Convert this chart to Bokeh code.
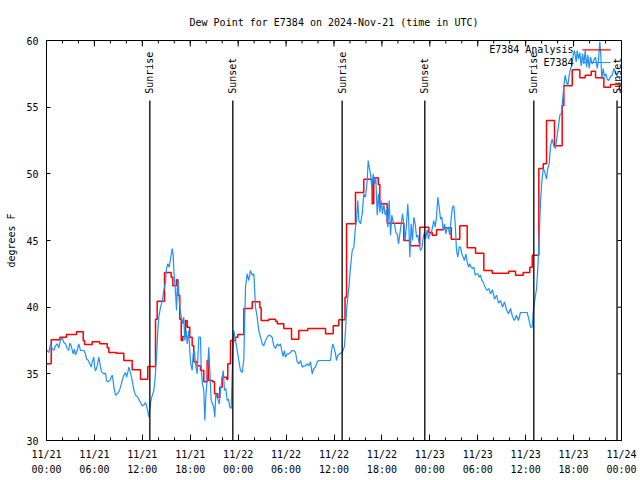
import numpy as np
import pandas as pd
from bokeh.plotting import figure
from bokeh.models import Range1d, FixedTicker, Label, ColumnDataSource
from bokeh.core.properties import value
from bokeh.embed import file_html
from bokeh.resources import INLINE

FONT = "DejaVu Sans Mono"
T0 = pd.Timestamp("2024-11-21 00:00")

# ---- observed dew point (E7384), hours since 11/21 00:00 UTC ----
obs_hours = [0.00, 0.29, 0.50, 0.71, 0.91, 1.13, 1.34, 1.54, 1.75, 1.97, 2.17, 2.38, 2.59, 2.79, 2.92, 3.09,
             3.34, 3.51, 3.63, 3.84, 4.04, 4.26, 4.47, 4.67, 4.88, 5.01, 5.17, 5.42, 5.60, 5.72, 5.92, 6.01,
             6.14, 6.35, 6.55, 6.76, 6.89, 7.18, 7.39, 7.51, 7.68, 7.93, 8.10, 8.23, 8.35, 8.43, 8.64, 8.77,
             8.93, 9.10, 9.27, 9.48, 9.68, 9.89, 10.02, 10.18, 10.31, 10.52, 10.73, 10.93, 11.14, 11.36, 11.56,
             11.77, 11.98, 12.18, 12.40, 12.52, 12.68, 12.81, 13.02, 13.11, 13.44, 13.61, 13.77, 13.94, 14.06,
             14.28, 14.49, 14.69, 14.90, 15.03, 15.19, 15.36, 15.53, 15.74, 15.87, 15.94, 16.07, 16.19, 16.28,
             16.37, 16.49, 16.62, 16.78, 16.90, 17.03, 17.19, 17.32, 17.49, 17.62, 17.82, 17.94, 18.03, 18.24,
             18.37, 18.53, 18.66, 18.87, 19.07, 19.28, 19.37, 19.53, 19.70, 19.82, 19.95, 20.12, 20.32, 20.45,
             20.62, 20.79, 20.95, 21.07, 21.20, 21.45, 21.63, 21.79, 21.95, 22.13, 22.29, 22.45, 22.63, 22.79,
             22.95, 23.13, 23.25, 23.45, 23.67, 23.88, 24.08, 24.29, 24.51, 24.71, 24.92, 25.13, 25.33, 25.54,
             25.75, 25.96, 26.05, 26.17, 26.38, 26.58, 26.80, 27.01, 27.21, 27.42, 27.64, 27.84, 28.05, 28.26,
             28.46, 28.68, 28.89, 29.09, 29.30, 29.51, 29.64, 29.80, 29.93, 30.14, 30.34, 30.55, 30.77, 30.97,
             31.18, 31.39, 31.59, 31.81, 32.02, 32.22, 32.43, 32.64, 32.85, 33.06, 33.27, 33.47, 33.68, 33.90,
             34.10, 34.31, 35.15, 35.56, 35.69, 35.85, 35.98, 36.19, 36.31, 36.48, 36.73, 36.98, 37.15, 37.32,
             37.44, 37.57, 37.73, 37.90, 38.07, 38.28, 38.48, 38.69, 38.82, 38.98, 39.11, 39.32, 39.53, 39.73,
             39.94, 40.16, 40.28, 40.41, 40.57, 40.73, 40.91, 41.07, 41.23, 41.41, 41.57, 41.74, 41.91, 42.07,
             42.24, 42.41, 42.57, 42.74, 42.91, 43.08, 43.24, 43.41, 43.58, 43.74, 43.91, 44.08, 44.24, 44.42,
             44.58, 44.74, 44.92, 45.08, 45.24, 45.37, 45.49, 45.67, 45.83, 45.99, 46.17, 46.33, 46.49, 46.67,
             46.83, 46.99, 47.17, 47.33, 47.46, 47.67, 47.83, 48.00, 48.17, 48.33, 48.50, 48.67, 48.83, 49.00,
             49.17, 49.34, 49.50, 49.67, 49.84, 50.00, 50.18, 50.34, 50.50, 50.68, 50.84, 51.00, 51.18, 51.34,
             51.50, 51.68, 51.84, 52.00, 52.18, 52.34, 52.51, 52.68, 52.84, 53.00, 53.18, 53.34, 53.51, 53.68,
             53.84, 54.01, 54.18, 54.35, 54.51, 54.68, 54.85, 55.01, 55.18, 55.38, 55.60, 55.85, 56.10, 56.35,
             56.60, 56.85, 57.10, 57.35, 57.60, 57.85, 58.10, 58.35, 58.60, 58.85, 59.10, 59.35, 59.77, 60.19,
             60.39, 60.61, 60.82, 60.94, 61.11, 61.36, 61.52, 61.70, 61.86, 62.02, 62.20, 62.36, 62.61, 62.77,
             62.95, 63.11, 63.32, 63.52, 63.74, 63.95, 64.11, 64.28, 64.45, 64.61, 64.78, 64.95, 65.11, 65.28,
             65.45, 65.61, 65.78, 65.95, 66.11, 66.33, 66.45, 66.62, 66.78, 66.95, 67.12, 67.28, 67.46, 67.62,
             67.78, 67.96, 68.12, 68.33, 68.53, 68.75, 68.96, 69.12, 69.28, 69.41, 69.53, 69.71, 69.87, 70.04,
             70.21, 70.41, 70.62, 70.84, 71.04, 71.25, 71.46, 71.66, 71.87]
obs_dewpt = [36.8, 36.6, 37.25, 36.9, 36.75, 37.1, 37.25, 36.95, 37.55, 37.7, 37.35, 37.25, 36.9, 36.75, 37.3, 37.1,
             36.5, 36.85, 36.4, 36.75, 37.25, 36.75, 36.75, 36.75, 36.5, 36.1, 36.05, 35.75, 35.5, 35.9, 36.25, 35.55,
             35.2, 35.6, 36.25, 35.5, 35.15, 35.0, 35.05, 34.5, 34.4, 34.5, 34.75, 34.9, 34.5, 34.0, 33.4, 33.45,
             33.55, 33.7, 34.0, 34.5, 34.9, 35.1, 34.75, 35.1, 35.5, 35.1, 34.5, 33.8, 33.4, 33.3, 33.1,
             32.85, 32.6, 32.65, 32.85, 32.6, 32.25, 31.75, 32.75, 33.1, 33.75, 34.75, 36.25, 38.25, 39.25,
             40.0, 40.45, 41.25, 41.9, 42.9, 43.25, 43.0, 43.6, 44.4, 43.85, 42.75, 41.75, 40.75, 39.75,
             41.4, 42.1, 40.5, 39.6, 39.25, 38.75, 39.25, 37.5, 38.25, 37.25, 38.25, 36.75, 35.9, 35.25,
             36.5, 36.75, 35.75, 35.0, 37.75, 37.75, 35.5, 34.25, 33.75, 31.5, 33.25, 34.75, 37.0, 35.25,
             33.0, 32.75, 32.5, 31.75, 33.5, 33.1, 32.75, 33.75, 34.5, 35.25, 33.75, 33.9, 33.0, 33.1,
             32.5, 32.4, 35.0, 38.25, 37.5, 36.75, 36.0, 35.25, 35.1, 36.1, 41.5, 42.5, 42.0, 42.75,
             42.4, 42.5, 41.5, 40.0, 39.25, 38.25, 37.75, 37.25, 37.1, 37.5, 37.75, 37.9, 37.85, 37.75,
             37.1, 36.9, 37.25, 37.1, 37.25, 36.6, 36.3, 36.75, 36.25, 36.5, 36.5, 36.6, 36.75, 36.75,
             36.6, 35.9, 35.75, 36.0, 35.5, 35.6, 35.6, 35.75, 35.6, 35.9, 35.0, 35.4, 35.5, 35.9,
             36.0, 36.0, 36.0, 36.0, 36.75, 37.25, 37.0, 36.5, 36.0, 36.4, 36.5, 36.6, 36.75, 37.1,
             38.25, 39.75, 40.75, 41.75, 43.0, 44.25, 44.5, 46.0, 46.5, 48.0, 46.5, 46.25, 47.0, 48.5,
             48.25, 49.5, 51.0, 50.5, 50.0, 49.0, 50.0, 49.25, 49.75, 46.9, 48.5, 47.1, 48.0, 47.0,
             47.75, 46.9, 47.25, 46.0, 48.0, 45.4, 46.9, 46.4, 46.25, 45.6, 45.5, 44.75, 45.5, 46.25,
             47.0, 46.25, 45.0, 46.25, 47.75, 46.25, 43.75, 46.25, 45.0, 46.75, 46.25, 45.25, 45.4, 44.75,
             44.25, 44.4, 45.25, 45.6, 45.1, 45.8, 45.1, 45.5, 45.5, 46.0, 46.5, 46.0, 46.75, 48.25,
             47.5, 46.6, 46.75, 45.75, 46.25, 45.5, 46.0, 45.9, 45.4, 46.75, 47.5, 47.6, 46.25, 44.25,
             43.75, 44.5, 44.5, 44.0, 43.75, 43.5, 44.0, 43.4, 43.0, 43.25, 43.0, 42.9, 43.0, 42.4,
             42.5, 42.5, 42.25, 42.4, 42.0, 41.9, 41.6, 41.4, 41.25, 41.4, 41.0, 41.3, 40.6, 40.9,
             40.3, 40.5, 40.0, 40.4, 39.8, 39.5, 39.9, 39.3, 39.0, 39.4, 39.0, 39.6, 39.6, 39.6,
             39.1, 38.5, 38.5, 39.6, 40.4, 41.4, 42.9, 45.4, 47.9, 49.4, 50.4, 50.2, 49.6, 50.4,
             50.8, 52.1, 52.6, 52.1, 51.9, 52.9, 53.6, 54.4, 54.5, 55.4, 56.6, 57.4, 56.9, 56.6,
             57.4, 57.9, 58.1, 58.9, 59.25, 58.4, 59.25, 58.6, 59.1, 58.1, 59.0, 58.25, 59.25, 58.0,
             58.9, 57.9, 58.75, 58.25, 58.5, 58.75, 57.9, 58.5, 59.9, 58.9, 57.1, 57.9, 57.3, 57.5,
             57.1, 57.0, 57.3, 57.4, 57.9, 57.6, 57.3, 57.3, 57.0]

# ---- analysis dew point (E7384 Analysis), step changes ----
ana_hours = [0.00, 0.59, 1.67, 2.50, 3.76, 4.60, 4.76, 5.72, 6.67, 7.60, 7.80, 8.77, 9.68, 10.73, 11.77,
             12.68, 13.65, 13.86, 14.78, 15.61, 15.82, 16.28, 16.44, 16.69, 16.87, 17.07, 17.41, 17.62,
             17.94, 18.24, 18.44, 18.87, 19.28, 19.70, 20.12, 20.29, 20.79, 21.04, 21.45, 21.70, 22.00,
             22.54, 22.70, 23.04, 23.67, 23.95, 24.71, 25.76, 26.71, 26.88, 27.84, 28.68, 28.89, 29.71,
             30.68, 31.59, 32.72, 34.94, 35.90, 36.60, 37.38, 37.57, 38.69, 39.73, 40.78, 40.98, 41.54,
             41.74, 42.66, 44.74, 45.58, 46.74, 47.87, 48.30, 48.84, 49.75, 50.68, 51.75, 52.68, 53.72,
             54.76, 55.81, 57.89, 58.73, 59.69, 60.52, 60.82, 61.65, 62.20, 62.61, 63.61, 64.57, 64.78,
             65.83, 66.78, 67.46, 68.21, 68.75, 69.79, 70.62, 71.75, 71.90]
ana_dewpt = [35.75, 37.55, 37.75, 37.95, 38.15, 37.5, 37.2, 37.4, 37.25, 36.95, 36.6, 36.55, 36.0, 35.3, 34.6,
             35.55, 39.1, 40.45, 42.6, 42.25, 41.6, 42.05, 40.9, 39.1, 37.5, 37.8, 39.0, 38.5,
             37.75, 37.1, 35.9, 35.6, 35.25, 34.4, 36.0, 34.5, 34.4, 33.5, 33.25, 34.0, 34.75,
             34.6, 35.75, 37.5, 37.75, 37.95, 39.9, 40.4, 39.95, 39.0, 39.1, 38.95, 38.75, 38.4,
             37.6, 38.25, 38.4, 38.0, 38.6, 39.05, 40.75, 46.25, 48.6, 49.6, 47.75, 49.7, 49.2,
             47.75, 46.3, 45.0, 44.6, 46.0, 45.6, 45.4, 45.8, 45.95, 45.1, 46.1, 44.45, 44.05,
             42.75, 42.55, 42.7, 42.4, 42.6, 43.0, 43.9, 50.4, 50.75, 54.0, 52.1, 55.1, 56.6,
             57.8, 57.2, 57.4, 57.7, 57.2, 56.5, 56.7, 56.25, 56.25]

# ---- sunrise / sunset (hours since 11/21 00:00 UTC) ----
sun_hours = [12.94, 23.33, 37.02, 47.37, 61.02, 71.44]
sun_labels = ["Sunrise", "Sunset", "Sunrise", "Sunset", "Sunrise", "Sunset"]

y_ticks = [30, 35, 40, 45, 50, 55, 60]
x_tick_hours = list(range(0, 73, 6))
x_tick_labels = ["11/21\n00:00", "11/21\n06:00", "11/21\n12:00", "11/21\n18:00",
                 "11/22\n00:00", "11/22\n06:00", "11/22\n12:00", "11/22\n18:00",
                 "11/23\n00:00", "11/23\n06:00", "11/23\n12:00", "11/23\n18:00",
                 "11/24\n00:00"]
x_minor_hours = list(range(0, 73, 2))

Y0, Y1 = 30, 60
SPAN_H = 72.0

# layout (pixels)
W, H = 640, 480
B_LEFT, B_RIGHT, B_TOP, B_BOTTOM = 46, 19, 40, 40
FRAME_W = W - B_LEFT - B_RIGHT
FRAME_H = H - B_TOP - B_BOTTOM
HRS_PER_PX = SPAN_H / FRAME_W
VAL_PER_PX = (Y1 - Y0) / FRAME_H


def to_time(h):
    return T0 + pd.to_timedelta(np.asarray(h, dtype=float), unit="h")


def to_ms(h):
    return [(T0 + pd.Timedelta(hours=float(v))).value / 1e6 for v in h]


obs_src = ColumnDataSource(dict(t=to_time(obs_hours), v=obs_dewpt))
ana_src = ColumnDataSource(dict(t=to_time(ana_hours), v=ana_dewpt))
sun_src = ColumnDataSource(dict(t=to_time(sun_hours), lab=sun_labels,
                                y0=[Y0] * len(sun_hours), y1=[55.5] * len(sun_hours),
                                ylab=[56.0] * len(sun_hours)))

x_start = T0
x_end = T0 + pd.Timedelta(hours=SPAN_H)

p = figure(width=W, height=H, x_axis_type="datetime",
           x_range=Range1d(x_start, x_end), y_range=Range1d(Y0, Y1),
           output_backend="svg", toolbar_location=None,
           title="Dew Point for E7384 on 2024-Nov-21 (time in UTC)",
           min_border_left=B_LEFT, min_border_right=B_RIGHT,
           min_border_top=B_TOP, min_border_bottom=B_BOTTOM)

p.title.align = "center"
p.title.text_font = FONT
p.title.text_font_size = "10px"
p.title.text_font_style = "normal"
p.title.text_color = "black"
p.title.standoff = 26

p.xgrid.visible = False
p.ygrid.visible = False
p.outline_line_color = "black"
p.outline_line_width = 1
p.background_fill_color = "white"
p.border_fill_color = "white"

xa = p.xaxis[0]
xa.ticker = FixedTicker(ticks=to_ms(x_tick_hours), minor_ticks=to_ms(x_minor_hours))
xa.major_label_overrides = {ms: lab for ms, lab in zip(to_ms(x_tick_hours), x_tick_labels)}
xa.major_label_text_font = FONT
xa.major_label_text_font_size = "10px"
xa.major_label_text_color = "black"
xa.major_label_text_line_height = 1.45
xa.major_tick_in = 6
xa.major_tick_out = 0
xa.minor_tick_in = 3
xa.minor_tick_out = 0
xa.major_label_standoff = 8
xa.axis_line_color = "black"

ya = p.yaxis[0]
ya.ticker = FixedTicker(ticks=y_ticks)
ya.major_label_text_font = FONT
ya.major_label_text_font_size = "10px"
ya.major_label_text_color = "black"
ya.major_tick_in = 4
ya.major_tick_out = 0
ya.minor_tick_line_color = None
ya.major_label_standoff = 8
ya.axis_label = "degrees F"
ya.axis_label_text_font = FONT
ya.axis_label_text_font_size = "10px"
ya.axis_label_text_font_style = "normal"
ya.axis_label_text_color = "black"
ya.axis_label_standoff = 6

# mirrored ticks on the top and right frame edges
top_major = to_time(x_tick_hours)
top_minor = to_time(x_minor_hours)
p.segment(x0=top_major, y0=[Y1] * len(top_major), x1=top_major,
          y1=[Y1 - 6 * VAL_PER_PX] * len(top_major), line_color="black", line_width=1)
p.segment(x0=top_minor, y0=[Y1] * len(top_minor), x1=top_minor,
          y1=[Y1 - 3 * VAL_PER_PX] * len(top_minor), line_color="black", line_width=1)
right_x0 = [x_end] * len(y_ticks)
right_x1 = [x_end - pd.Timedelta(hours=4 * HRS_PER_PX)] * len(y_ticks)
p.segment(x0=right_x0, y0=y_ticks, x1=right_x1, y1=y_ticks, line_color="black", line_width=1)

# series
p.step(x="t", y="v", source=ana_src, mode="after", line_color="#ff0000", line_width=1.5)
p.line(x="t", y="v", source=obs_src, line_color="#1e90ff", line_width=1.2)

# sunrise / sunset markers
p.segment(x0="t", y0="y0", x1="t", y1="y1", source=sun_src, line_color="black", line_width=1.3)
p.text(x="t", y="ylab", text="lab", source=sun_src, angle=np.pi / 2,
       text_align="left", text_baseline="middle",
       text_font=value(FONT), text_font_size="10px", text_color="black")

# legend (text then line sample, right-aligned in the top-right corner)
leg_text_x = x_start + pd.Timedelta(hours=SPAN_H * 0.9165)
leg_l0 = x_start + pd.Timedelta(hours=SPAN_H * 0.932)
leg_l1 = x_start + pd.Timedelta(hours=SPAN_H * 0.981)
leg_rows = [("E7384 Analysis", "#ff0000", 59.3), ("E7384", "#1e90ff", 58.35)]
for txt, col, yy in leg_rows:
    p.add_layout(Label(x=leg_text_x, y=yy, text=txt, text_align="right", text_baseline="middle",
                       text_font=FONT, text_font_size="10px", text_color="black"))
    p.segment(x0=[leg_l0], y0=[yy], x1=[leg_l1], y1=[yy], line_color=col, line_width=1.2)

open("out.html", "w").write(file_html(p, INLINE))
